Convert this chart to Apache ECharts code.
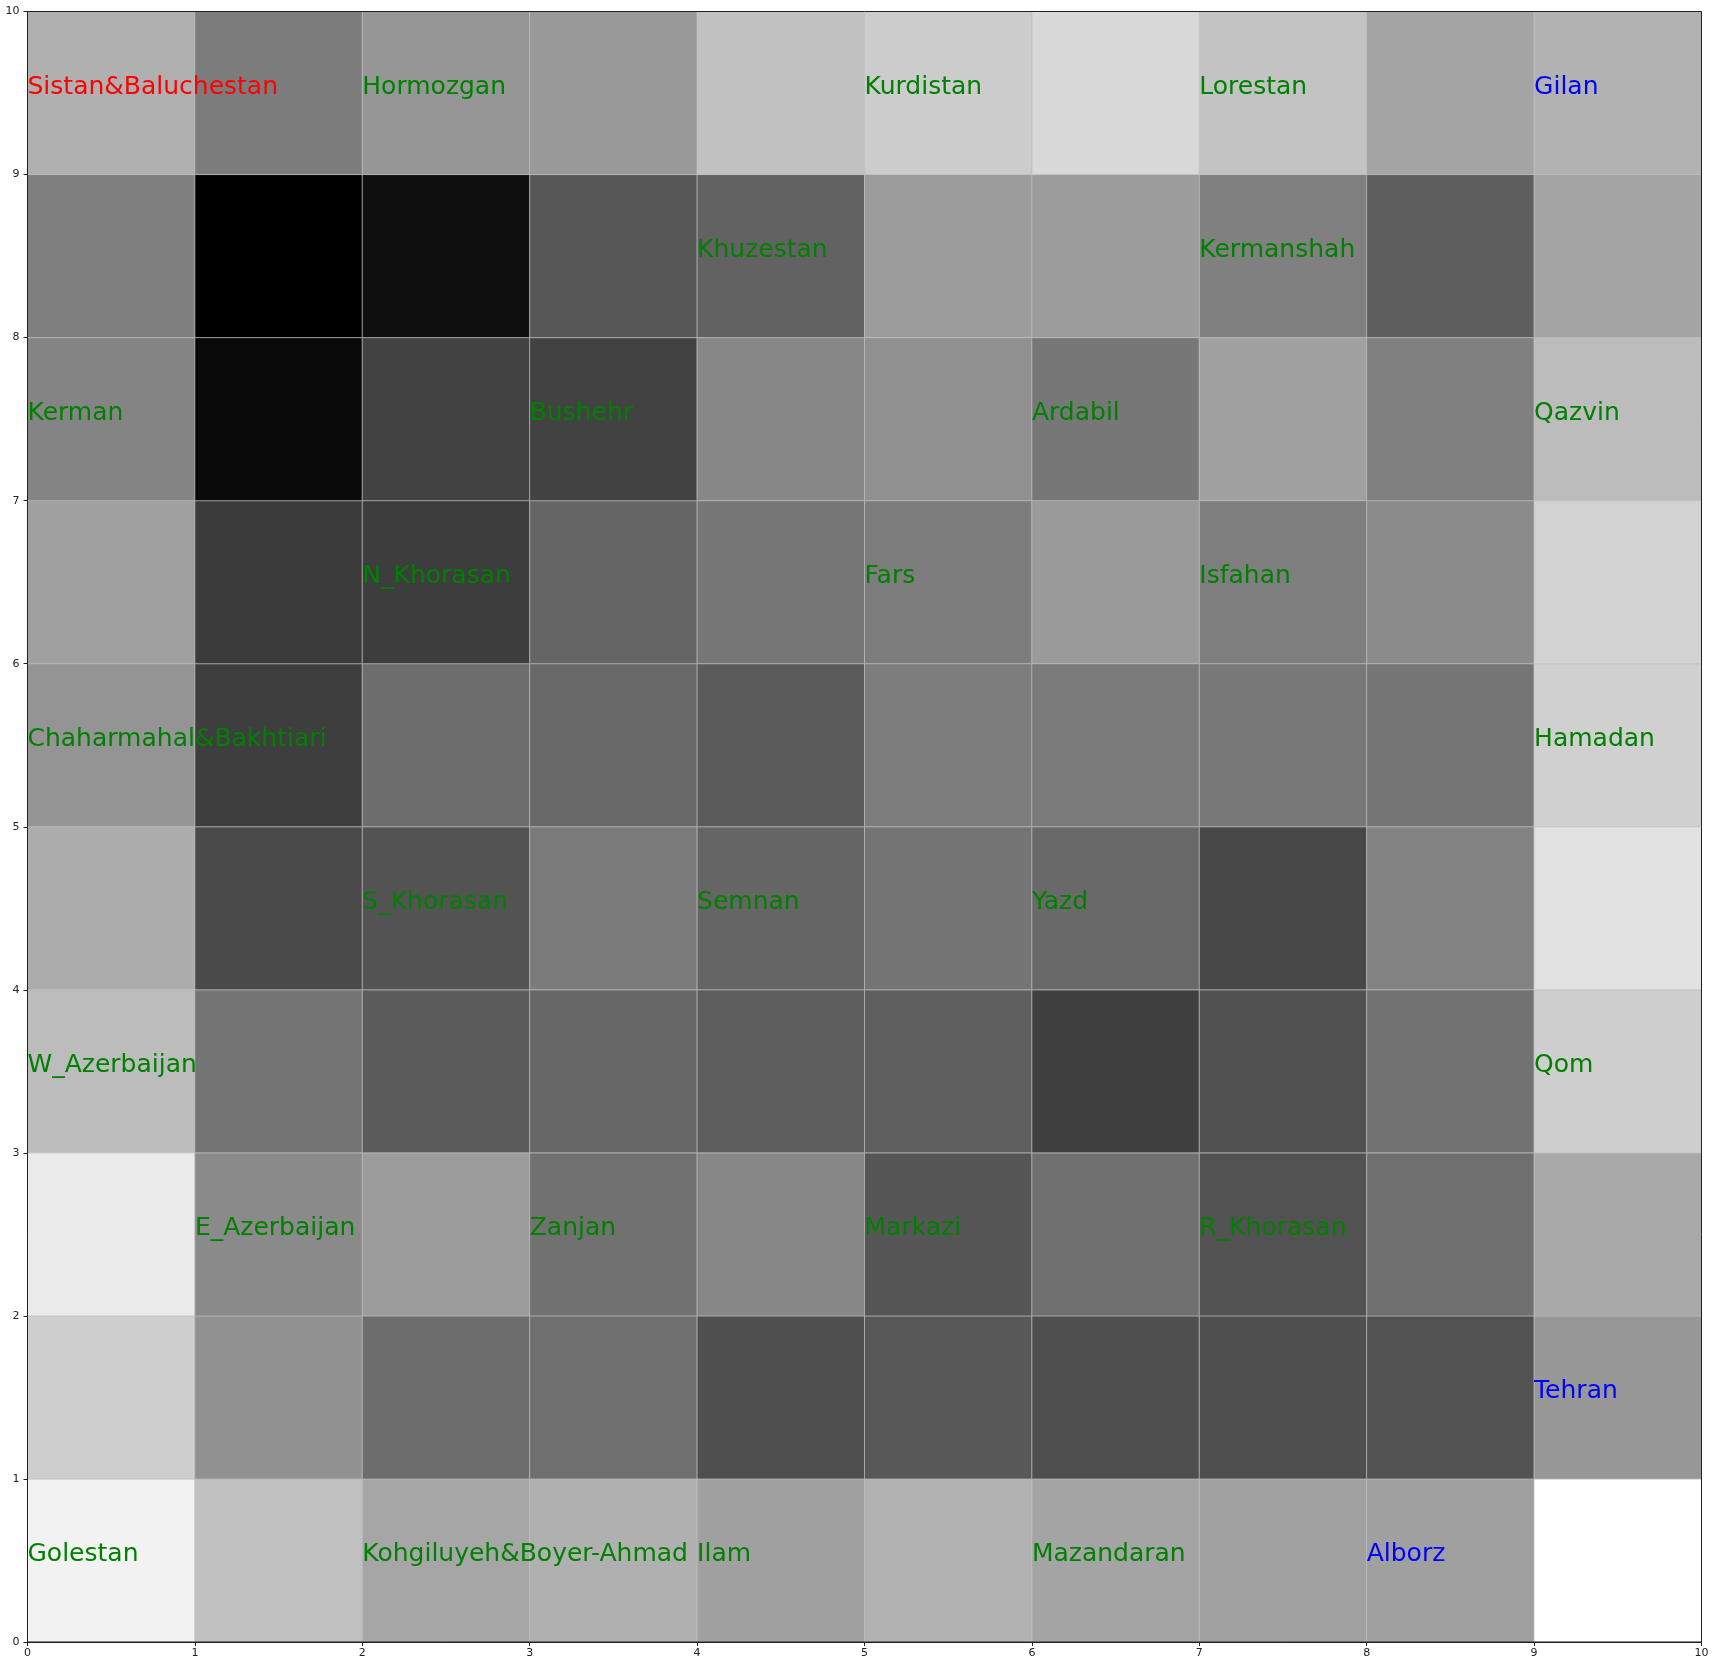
<!DOCTYPE html>
<html><head><meta charset="utf-8">
<style>html,body{margin:0;padding:0;background:#fff}#c{width:1714px;height:1666px}</style>
<script src="https://cdn.jsdelivr.net/npm/echarts@6/dist/echarts.min.js"></script></head>
<body><div id="c"></div>
<script>
// grey level of each cell, rows listed from y=9 (top) down to y=0
const row9=[0xb0,0x7c,0x96,0x99,0xc1,0xcc,0xd8,0xc3,0xa4,0xb2];
const row8=[0x7f,0x00,0x0f,0x57,0x62,0x9c,0x9c,0x80,0x5e,0xa4];
const row7=[0x84,0x09,0x42,0x42,0x87,0x90,0x77,0xa0,0x80,0xbc];
const row6=[0xa0,0x3b,0x3d,0x65,0x77,0x7d,0x9a,0x7e,0x8b,0xd2];
const row5=[0x94,0x3e,0x6d,0x68,0x5b,0x7d,0x7a,0x78,0x75,0xd0];
const row4=[0xac,0x4a,0x53,0x7b,0x65,0x74,0x69,0x47,0x83,0xe2];
const row3=[0xbc,0x74,0x5b,0x67,0x5d,0x5f,0x40,0x51,0x72,0xcf];
const row2=[0xeb,0x8a,0x9c,0x71,0x87,0x56,0x70,0x52,0x6f,0xa9];
const row1=[0xcf,0x91,0x6d,0x6f,0x4f,0x58,0x4f,0x4f,0x52,0x98];
const row0=[0xf2,0xc0,0xa6,0xb0,0xa0,0xb2,0xa4,0xa1,0xa0,0xff];
const rows=[row0,row1,row2,row3,row4,row5,row6,row7,row8,row9];
const tickLabels=[0,1,2,3,4,5,6,7,8,9,10];
const greenNames=[["Hormozgan",2,9],["Kurdistan",5,9],["Lorestan",7,9],["Khuzestan",4,8],["Kermanshah",7,8],
["Kerman",0,7],["Bushehr",3,7],["Ardabil",6,7],["Qazvin",9,7],["N_Khorasan",2,6],["Fars",5,6],["Isfahan",7,6],
["Chaharmahal&Bakhtiari",0,5],["Hamadan",9,5],["S_Khorasan",2,4],["Semnan",4,4],["Yazd",6,4],
["W_Azerbaijan",0,3],["Qom",9,3],["E_Azerbaijan",1,2],["Zanjan",3,2],["Markazi",5,2],["R_Khorasan",7,2],
["Golestan",0,0],["Kohgiluyeh&Boyer-Ahmad",2,0],["Ilam",4,0],["Mazandaran",6,0]];
const blueNames=[["Gilan",9,9],["Tehran",9,1],["Alborz",8,0]];
const redNames=[["Sistan&Baluchestan",0,9]];

const cells=[];
rows.forEach((r,y)=>r.forEach((v,x)=>cells.push([x,y,v])));
const nameSeries=(list,color)=>({type:'scatter',symbolSize:0,z:5,silent:true,
  itemStyle:{opacity:1},
  data:list.map(n=>({value:[n[1],n[2]+0.5],name:n[0]})),
  label:{show:true,position:[0,0],align:'left',verticalAlign:'bottom',offset:[0,6.5],opacity:1,
    formatter:p=>p.name,color:color,fontFamily:'DejaVu Sans',fontSize:25}});
const axis=(margin)=>({type:'value',min:0,max:10,interval:1,z:10,
  axisLine:{show:true,lineStyle:{color:'#222',width:1}},
  axisTick:{show:true,length:4,lineStyle:{color:'#222',width:1}},
  axisLabel:{color:'#222',fontFamily:'DejaVu Sans',fontSize:11,margin:margin,formatter:v=>tickLabels[v]},
  splitLine:{show:false}});
const chart=echarts.init(document.getElementById('c'),null,{renderer:'canvas'});
chart.setOption({animation:false,backgroundColor:'#fff',
  grid:{left:27.5,right:12.5,top:11.5,bottom:24,show:true,borderColor:'#222',borderWidth:1,backgroundColor:'transparent',z:10},
  xAxis:axis(6),yAxis:axis(8),
  series:[{type:'custom',data:cells,silent:true,encode:{x:0,y:1},z:1,
    renderItem:(params,api)=>{
      const x=api.value(0),y=api.value(1),v=api.value(2);
      const a=api.coord([x,y+1]),b=api.coord([x+1,y]);
      return {type:'rect',shape:{x:a[0],y:a[1],width:b[0]-a[0],height:b[1]-a[1]},
        style:{fill:`rgb(${v},${v},${v})`,stroke:'rgba(190,190,190,0.75)',lineWidth:0.8}};
    }},
    nameSeries(greenNames,'#008000'),nameSeries(blueNames,'#0000ff'),nameSeries(redNames,'#ff0000')]
});
</script></body></html>
